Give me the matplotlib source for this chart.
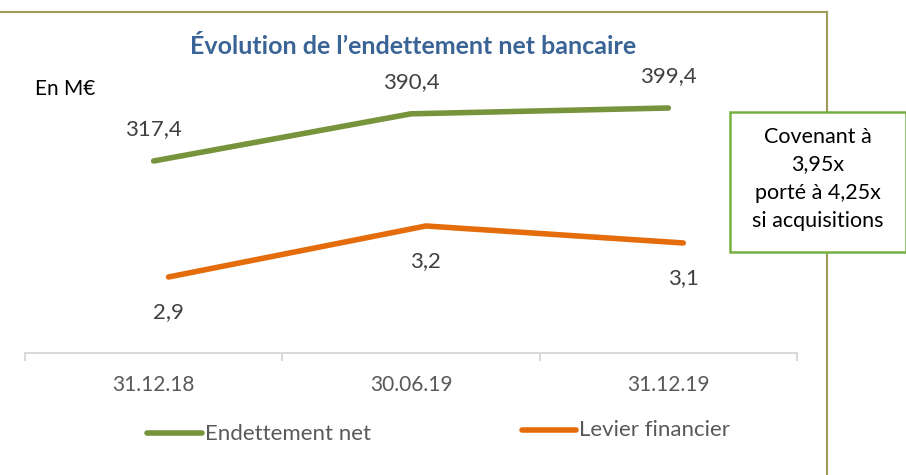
import matplotlib
matplotlib.use("Agg")
import matplotlib.pyplot as plt
from matplotlib.patches import Rectangle
from matplotlib.lines import Line2D

categories = ["31.12.18", "30.06.19", "31.12.19"]
endettement = [317.4, 390.4, 399.4]
levier = [2.9, 3.2, 3.1]
end_labels = ["317,4", "390,4", "399,4"]
lev_labels = ["2,9", "3,2", "3,1"]

W, H = 906, 475
fig = plt.figure(figsize=(W / 100, H / 100), dpi=100)
plt.rcParams['font.family'] = ['Lato', 'DejaVu Sans']

def fx(px):
    return px / W

def fy(py):
    return 1 - py / H

green = "#77933C"
orange = "#E46C0A"
gray_text = "#595959"

ax = fig.add_axes([fx(25), fy(353), fx(797) - fx(25), fy(60) - fy(353)])
ax.set_xlim(-0.5, 2.5)
ax.set_ylim(20.2, 473.7)
ax.patch.set_alpha(0)
for s in ["top", "right", "left"]:
    ax.spines[s].set_visible(False)
ax.spines["bottom"].set_color("#D9D9D9")
ax.spines["bottom"].set_linewidth(1.5)
ax.set_yticks([])
ax.set_xticks([-0.5, 0.5, 1.5, 2.5])
ax.set_xticklabels([])
ax.tick_params(axis="x", length=6, width=1.5, color="#D9D9D9")
xs = list(range(len(categories)))
for i, c in enumerate(categories):
    ax.text(i, -0.11, c, transform=ax.get_xaxis_transform(), ha="center", va="center",
            fontsize=15, color=gray_text)

ax.plot(xs, endettement, color=green, lw=4, solid_capstyle="round", zorder=3)
for x, v, lab in zip(xs, endettement, end_labels):
    ax.annotate(lab, (x, v), xytext=(0, 23), textcoords="offset points", ha="center",
                va="center", fontsize=16, color="#404040")

ax2 = fig.add_axes(ax.get_position())
ax2.set_xlim(-0.558, 2.442)
ax2.set_ylim(2.453, 4.176)
ax2.axis("off")
ax2.plot(xs, levier, color=orange, lw=4, solid_capstyle="round", zorder=3)
for x, v, lab in zip(xs, levier, lev_labels):
    ax2.annotate(lab, (x, v), xytext=(0, -25), textcoords="offset points", ha="center",
                 va="center", fontsize=16, color="#404040")

# chart border
border = "#A09B5A"
fig.add_artist(Line2D([0, fx(827)], [fy(12), fy(12)], color=border, lw=1.5, transform=fig.transFigure))
fig.add_artist(Line2D([fx(827), fx(827)], [fy(12), 0], color=border, lw=1.5, transform=fig.transFigure))

# title
fig.text(fx(413), fy(46), "Évolution de l’endettement net bancaire", ha="center", va="center",
         fontsize=18, fontweight="bold", color="#3A6496")
fig.text(fx(35), fy(89), "En M€", ha="left", va="center", fontsize=15, color="black")

# legend
fig.add_artist(Line2D([fx(147), fx(202)], [fy(433), fy(433)], color=green, lw=4,
                      solid_capstyle="round", transform=fig.transFigure))
fig.text(fx(205), fy(434), "Endettement net", ha="left", va="center", fontsize=16, color=gray_text)
fig.add_artist(Line2D([fx(522), fx(576)], [fy(430), fy(430)], color=orange, lw=4,
                      solid_capstyle="round", transform=fig.transFigure))
fig.text(fx(579), fy(430), "Levier financier", ha="left", va="center", fontsize=16, color=gray_text)

# callout box
box = Rectangle((fx(730), fy(252)), fx(906) - fx(730), fy(112) - fy(252), transform=fig.transFigure,
                facecolor="white", edgecolor="#76B041", lw=1.8, zorder=5)
fig.add_artist(box)
for txt, py in zip(["Covenant à", "3,95x", "porté à 4,25x", "si acquisitions"], [137, 164, 193, 221]):
    t = fig.text(fx(818), fy(py), txt, ha="center", va="center", fontsize=15.5, color="black", zorder=6)

fig.savefig("out.png", dpi=100)
